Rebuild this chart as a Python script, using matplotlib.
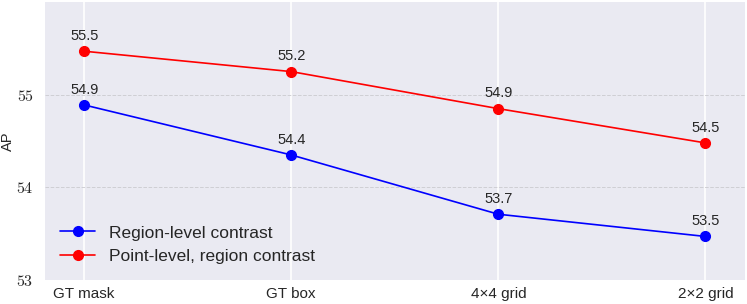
import matplotlib
matplotlib.use("Agg")
import matplotlib.pyplot as plt
import seaborn as sns

categories = ["GT mask", "GT box", "4\u00d74 grid", "2\u00d72 grid"]
region_vals = [54.89, 54.35, 53.71, 53.47]
region_labels = ["54.9", "54.4", "53.7", "53.5"]
point_vals = [55.47, 55.25, 54.85, 54.48]
point_labels = ["55.5", "55.2", "54.9", "54.5"]
yticks = [53, 54, 55]

sns.set_style("darkgrid")
plt.rcParams['font.family'] = ['Liberation Sans', 'DejaVu Sans']
plt.rcParams['mathtext.fontset'] = 'cm'

fig = plt.figure(figsize=(7.47, 3.04), dpi=100)
ax = fig.add_axes([0.060, 0.079, 0.937, 0.914])
ax.set_facecolor("#EAEAF2")
x = list(range(len(categories)))

ax.plot(x, region_vals, color="blue", marker="o", markersize=7, linewidth=1.2,
        label="Region-level contrast")
ax.plot(x, point_vals, color="red", marker="o", markersize=7, linewidth=1.2,
        label="Point-level, region contrast")

for xi, v, t in zip(x, region_vals, region_labels):
    ax.annotate(t, (xi, v), textcoords="offset points", xytext=(0, 6),
                ha="center", va="bottom", fontsize=10.5, color="#262626")
for xi, v, t in zip(x, point_vals, point_labels):
    ax.annotate(t, (xi, v), textcoords="offset points", xytext=(0, 6),
                ha="center", va="bottom", fontsize=10.5, color="#262626")

ax.set_xlim(-0.19, 3.19)
ax.set_ylim(53, 56)
ax.set_xticks(x)
ax.set_xticklabels(categories, fontsize=11)
ax.set_yticks(yticks)
ax.set_yticklabels([r"$%d$" % t for t in yticks], fontsize=11.5)
ax.tick_params(axis='both', length=0)
ax.tick_params(axis='y', pad=8)
ax.tick_params(axis='x', pad=5)
ax.set_ylabel("AP", fontsize=10.5, labelpad=1)

ax.xaxis.grid(True, color="white", linestyle="-", linewidth=1.2)
ax.yaxis.grid(True, color="#cfcfd4", linestyle="--", linewidth=0.7)
for s in ax.spines.values():
    s.set_visible(False)

ax.legend(loc="lower left", frameon=False, fontsize=12.5, bbox_to_anchor=(0.0, 0.0))
fig.savefig("out.png", dpi=100)
